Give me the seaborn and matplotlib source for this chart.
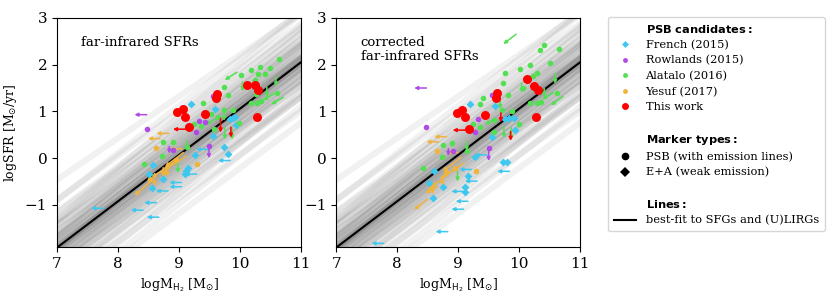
import matplotlib
matplotlib.use("Agg")
import matplotlib.pyplot as plt
import seaborn as sns
import pandas as pd
from matplotlib.lines import Line2D

# best-fit relation to SFGs and (U)LIRGs
fit_slope = 0.99
fit_intercept = -8.84
# realisations of the fit (offset at logM=9, slope)
fan_pivot = 9.0
fan_offsets = [-1.25, -1.05, -0.92, -0.82, -0.74, -0.67, -0.61, -0.55, -0.50, -0.46,
               -0.42, -0.38, -0.34, -0.31, -0.28, -0.25, -0.22, -0.19, -0.16, -0.14,
               -0.11, -0.09, -0.07, -0.05, -0.03, -0.01, 0.01, 0.03, 0.05, 0.07,
               0.09, 0.11, 0.14, 0.16, 0.19, 0.22, 0.25, 0.28, 0.31, 0.34,
               0.38, 0.42, 0.46, 0.50, 0.55, 0.61, 0.67, 0.74, 0.82, 0.92,
               1.05, 1.25]
fan_slopes = [0.97, 1.04, 0.93, 1.08, 0.99, 0.95, 1.02, 0.90, 1.06, 0.98,
              1.01, 0.94, 1.05, 0.97, 1.00, 0.92, 1.03, 0.99, 0.96, 1.07,
              1.00, 0.98, 1.01, 0.95, 1.03, 0.99, 0.97, 1.02, 1.00, 0.94,
              1.04, 0.98, 1.01, 0.96, 1.06, 0.93, 1.00, 1.03, 0.91, 0.99,
              1.05, 0.97, 1.08, 0.95, 1.02, 0.92, 1.04, 0.98, 1.10, 0.94,
              1.01, 0.89]

# ---------- panel 1: far-infrared SFRs ----------
fir_french_x = [9.19, 9.59, 9.56, 9.73, 9.80, 9.84, 9.88, 9.92, 9.93, 9.26, 9.12, 9.15, 9.10, 8.58, 8.50, 8.55, 8.74]
fir_french_y = [1.15, 1.06, 0.48, 0.23, 0.10, 0.84, 0.86, 0.87, 0.70, 0.07, -0.27, -0.21, -0.33, -0.15, -0.34, -0.63, -0.45]
fir_french_lim = [(9.48, 0.19, -0.2, 0), (9.84, -0.05, -0.2, 0), (9.29, -0.34, -0.2, 0), (9.04, -0.52, -0.2, 0),
                  (9.04, -0.61, -0.2, 0), (8.82, -0.70, -0.2, 0), (8.63, -0.95, -0.2, 0), (8.41, -1.11, -0.2, 0),
                  (8.67, -1.26, -0.2, 0), (7.76, -1.07, -0.2, 0)]
fir_rowlands_x = [8.47, 9.55, 9.32, 9.43, 9.28, 8.90, 9.49]
fir_rowlands_y = [0.63, 1.33, 0.80, 0.78, 0.55, 0.17, 0.27]
fir_rowlands_lim = [(8.47, 0.93, -0.2, 0), (9.49, 0.27, 0, -0.27), (8.84, 0.25, 0, -0.15)]
fir_alatalo_x = [10.64, 10.49, 10.33, 10.18, 10.29, 10.41, 10.01, 9.74, 9.80, 10.61, 10.26, 10.18, 10.27, 10.35,
                 9.39, 9.52, 9.74, 9.89, 9.99, 9.36, 9.24, 9.64, 9.58, 8.74, 8.90, 9.13, 8.72, 8.42, 10.24]
fir_alatalo_y = [2.11, 1.93, 1.95, 1.89, 1.81, 1.81, 1.78, 1.53, 1.36, 1.39, 1.38, 1.18, 1.19, 1.22,
                 1.18, 0.95, 1.03, 1.02, 0.76, 0.68, 0.73, 0.88, 0.62, 0.35, 0.35, 0.23, 0.05, -0.13, 1.68]
fir_alatalo_lim = [(9.95, 1.84, -0.2, -0.17), (10.71, 1.30, -0.2, -0.15), (10.56, 1.38, -0.18, -0.14),
                   (10.04, 1.63, 0, -0.2), (10.59, 1.73, 0, -0.2), (10.44, 1.52, 0, -0.22),
                   (9.74, 1.05, 0, -0.25), (9.75, 0.65, 0, -0.25), (9.87, 0.65, 0, -0.25),
                   (9.62, 0.85, -0.18, -0.13), (9.13, 0.38, 0, -0.2), (8.98, -0.10, 0, -0.22)]
fir_yesuf_x = [8.63, 8.95, 9.29, 8.78, 8.52]
fir_yesuf_y = [0.22, -0.03, -0.13, -0.30, -0.45]
fir_yesuf_lim = [(8.83, 0.53, -0.2, 0), (8.69, 0.42, -0.2, 0), (9.05, 0.20, -0.2, 0),
                 (9.07, 0.12, -0.3, -0.3), (9.12, 0.05, -0.35, -0.3), (8.95, -0.05, -0.2, -0.2),
                 (8.75, -0.25, -0.2, -0.15), (8.55, -0.48, -0.28, -0.32), (8.62, -0.40, -0.15, -0.1),
                 (8.74, -0.20, 0, -0.2), (8.60, -0.45, 0, -0.15)]
fir_this_x = [8.96, 9.06, 9.10, 9.17, 9.43, 9.61, 9.63, 10.12, 10.25, 10.30, 10.27]
fir_this_y = [0.98, 1.06, 0.89, 0.66, 0.95, 1.29, 1.38, 1.56, 1.56, 1.46, 0.89]
fir_this_lim = [(9.15, 0.62, -0.25, 0), (9.68, 0.85, 0, -0.3), (9.85, 0.66, 0, -0.22)]

# ---------- panel 2: corrected far-infrared SFRs ----------
cor_french_x = [9.20, 9.60, 9.56, 9.77, 9.84, 9.91, 9.93, 9.74, 9.80, 9.28, 9.16, 9.12, 9.12, 8.61, 8.53, 8.75, 8.58]
cor_french_y = [1.16, 1.11, 0.46, 0.83, 0.85, 0.86, 0.60, -0.08, -0.08, 0.02, -0.39, -0.61, -0.73, -0.27, -0.52, -0.61, -0.86]
cor_french_lim = [(9.84, -0.28, -0.2, 0), (9.31, -0.49, -0.2, 0), (9.09, -0.71, -0.2, 0), (9.16, -0.92, -0.2, 0),
                  (9.09, -1.09, -0.2, 0), (8.83, -1.57, -0.2, 0), (7.78, -1.82, -0.2, 0), (9.22, -0.24, -0.2, 0),
                  (9.47, 0.07, -0.2, 0)]
cor_rowlands_x = [8.48, 9.55, 9.33, 9.28, 8.91, 9.50]
cor_rowlands_y = [0.66, 1.35, 0.83, 0.55, 0.15, 0.21]
cor_rowlands_lim = [(8.48, 1.50, -0.2, 0), (9.50, 0.21, 0, -0.27), (8.84, 0.20, 0, -0.15)]
cor_alatalo_x = [10.41, 10.34, 10.66, 10.50, 10.18, 10.02, 10.30, 10.23, 9.76, 9.74, 9.81, 10.62, 10.18, 10.29, 10.36,
                 9.40, 9.36, 9.25, 9.36, 9.59, 9.72, 9.89, 9.99, 9.58, 8.75, 8.90, 9.14, 8.73, 8.43, 10.07]
cor_alatalo_y = [2.42, 2.32, 2.34, 2.04, 1.99, 1.91, 1.82, 1.75, 1.82, 1.61, 1.35, 1.39, 1.18, 1.18, 1.21,
                 1.29, 1.16, 0.73, 0.66, 0.82, 1.02, 1.00, 0.73, 0.55, 0.29, 0.32, 0.16, 0.02, -0.21, 1.49]
cor_alatalo_lim = [(9.95, 2.65, -0.21, -0.21), (10.72, 1.32, -0.2, -0.19), (10.56, 1.40, -0.18, -0.14),
                   (10.59, 1.81, 0, -0.22), (10.41, 1.49, 0, -0.18), (10.04, 1.60, 0, -0.2),
                   (9.69, 1.30, 0, -0.25), (9.75, 0.68, 0, -0.25), (9.87, 0.65, 0, -0.25),
                   (9.62, 0.85, -0.18, -0.13), (9.14, 0.36, 0, -0.2), (8.99, -0.28, 0, -0.22)]
cor_yesuf_x = [8.65, 8.80, 8.95, 9.30, 8.55]
cor_yesuf_y = [0.15, -0.30, -0.21, -0.28, -0.62]
cor_yesuf_lim = [(8.81, 0.46, -0.2, 0), (8.68, 0.35, -0.2, 0), (9.00, 0.12, -0.2, 0),
                 (9.05, 0.02, -0.3, -0.3), (9.10, -0.10, -0.35, -0.3), (8.92, -0.25, -0.22, -0.2),
                 (8.75, -0.45, -0.2, -0.15), (8.49, -0.88, -0.21, -0.22), (8.66, -0.60, -0.2, -0.15),
                 (8.74, -0.38, 0, -0.2), (8.58, -0.62, 0, -0.15)]
cor_this_x = [8.98, 9.07, 9.11, 9.18, 9.44, 9.62, 9.64, 10.13, 10.25, 10.31, 10.28]
cor_this_y = [0.96, 1.04, 0.88, 0.62, 0.92, 1.28, 1.39, 1.69, 1.55, 1.46, 0.88]
cor_this_lim = [(9.16, 0.60, -0.25, 0), (9.70, 0.97, 0, -0.2), (9.86, 0.57, 0, -0.2)]

c_french = "#3ec8ef"
c_rowlands = "#b04ae6"
c_alatalo = "#52e052"
c_yesuf = "#efb43d"
c_this = "#ff0000"

plt.rcParams["font.family"] = ["DejaVu Serif"]
plt.rcParams["mathtext.fontset"] = "dejavusans"

fig = plt.figure(figsize=(8.3, 2.97), dpi=100)
ax1 = fig.add_axes([0.0687, 0.168, 0.294, 0.772])
ax2 = fig.add_axes([0.405, 0.168, 0.294, 0.772])

xgrid = [7.0, 11.0]
fan_rows = []
for i, (off, sl) in enumerate(zip(fan_offsets, fan_slopes)):
    y9 = fit_slope * fan_pivot + fit_intercept + off
    for xv in xgrid:
        fan_rows.append({"x": xv, "y": y9 + sl * (xv - fan_pivot), "line": i})
fan = pd.DataFrame(fan_rows)
fit_df = pd.DataFrame({"x": xgrid, "y": [fit_slope * v + fit_intercept for v in xgrid]})


def arrows(ax, lims, color, z):
    for x0, y0, dx, dy in lims:
        ax.annotate("", xy=(x0 + dx, y0 + dy), xytext=(x0, y0),
                    arrowprops=dict(arrowstyle="-|>", color=color, lw=1.1,
                                    mutation_scale=5, shrinkA=0, shrinkB=0),
                    zorder=z)


def points(ax, x, y, color, marker, size, z):
    sns.scatterplot(x=x, y=y, ax=ax, color=color, marker=marker, s=size,
                    linewidth=0, zorder=z, legend=False)


panels = [
    (ax1, "far-infrared SFRs",
     (fir_french_x, fir_french_y, fir_french_lim), (fir_rowlands_x, fir_rowlands_y, fir_rowlands_lim),
     (fir_alatalo_x, fir_alatalo_y, fir_alatalo_lim), (fir_yesuf_x, fir_yesuf_y, fir_yesuf_lim),
     (fir_this_x, fir_this_y, fir_this_lim)),
    (ax2, "corrected\nfar-infrared SFRs",
     (cor_french_x, cor_french_y, cor_french_lim), (cor_rowlands_x, cor_rowlands_y, cor_rowlands_lim),
     (cor_alatalo_x, cor_alatalo_y, cor_alatalo_lim), (cor_yesuf_x, cor_yesuf_y, cor_yesuf_lim),
     (cor_this_x, cor_this_y, cor_this_lim)),
]

for ax, title, fr, ro, al, ye, th in panels:
    sns.lineplot(data=fan, x="x", y="y", units="line", estimator=None, ax=ax,
                 color="black", alpha=0.055, lw=4.5, zorder=0)
    sns.lineplot(data=fit_df, x="x", y="y", ax=ax, color="black", lw=1.5, zorder=1)

    arrows(ax, ye[2], c_yesuf, 2)
    arrows(ax, fr[2], c_french, 2)
    arrows(ax, ro[2], c_rowlands, 2)
    arrows(ax, al[2], c_alatalo, 2)
    points(ax, ye[0], ye[1], c_yesuf, "o", 16, 3)
    points(ax, fr[0], fr[1], c_french, "D", 16, 3)
    points(ax, ro[0], ro[1], c_rowlands, "o", 16, 3)
    points(ax, al[0], al[1], c_alatalo, "o", 16, 3)
    arrows(ax, th[2], c_this, 4)
    points(ax, th[0], th[1], c_this, "o", 42, 5)

    ax.set_xlim(7, 11)
    ax.set_ylim(-1.9, 3)
    ax.set_xticks([7, 8, 9, 10, 11])
    ax.set_yticks([-1, 0, 1, 2, 3])
    ax.tick_params(labelsize=11)
    ax.set_xlabel(r"logM$_{\rm H_2}$ [M$_{\odot}$]", fontsize=9)
    ax.set_ylabel("")
    ax.text(0.10, 0.92, title, transform=ax.transAxes, fontsize=9.5, va="top", ha="left",
            linespacing=1.05)

ax1.set_ylabel(r"logSFR [M$_{\odot}$/yr]", fontsize=9)

blank = Line2D([], [], ls="", marker="")
handles = [
    blank,
    Line2D([], [], ls="", marker="D", ms=3.5, color=c_french, mew=0),
    Line2D([], [], ls="", marker="o", ms=3.5, color=c_rowlands, mew=0),
    Line2D([], [], ls="", marker="o", ms=3.5, color=c_alatalo, mew=0),
    Line2D([], [], ls="", marker="o", ms=3.5, color=c_yesuf, mew=0),
    Line2D([], [], ls="", marker="o", ms=5, color=c_this, mew=0),
    blank, blank,
    Line2D([], [], ls="", marker="o", ms=5.5, color="black", mew=0),
    Line2D([], [], ls="", marker="D", ms=5, color="black", mew=0),
    blank, blank,
    Line2D([], [], color="black", lw=1.5),
]
labels = [
    r"$\bf{PSB\ candidates:}$", "French (2015)", "Rowlands (2015)", "Alatalo (2016)",
    "Yesuf (2017)", "This work", " ", r"$\bf{Marker\ types:}$",
    "PSB (with emission lines)", "E+A (weak emission)", " ", r"$\bf{Lines:}$",
    "best-fit to SFGs and (U)LIRGs",
]
fig.legend(handles, labels, loc="upper left", bbox_to_anchor=(0.7325, 0.943),
           fontsize=8.2, frameon=True, borderaxespad=0, labelspacing=0.46,
           handlelength=2.0, handletextpad=0.8, borderpad=0.5)

fig.savefig("out.png", dpi=100)
